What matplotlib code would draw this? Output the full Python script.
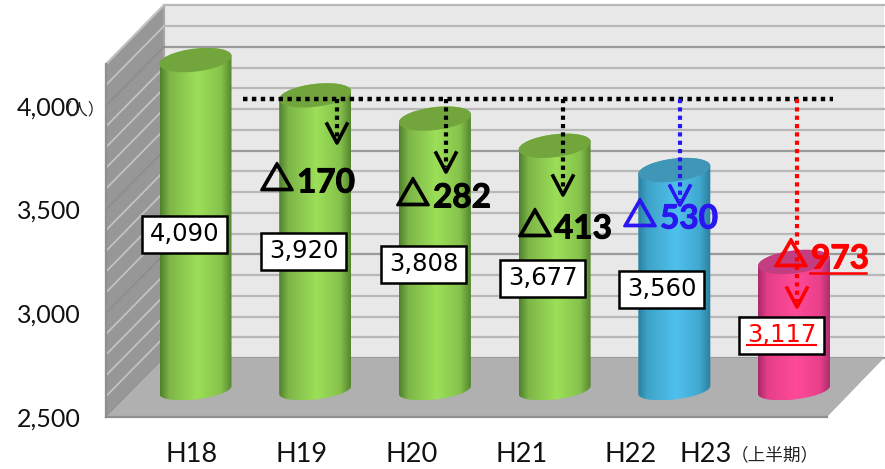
import numpy as np
import matplotlib
matplotlib.use("Agg")
import matplotlib.pyplot as plt
import matplotlib.patheffects as pe
from matplotlib.patches import Polygon, Rectangle
from matplotlib.transforms import Affine2D

W, H = 885, 469

# Headcount per fiscal year
years = ["H18", "H19", "H20", "H21", "H22", "H23"]
values = [4090, 3920, 3808, 3677, 3560, 3117]
value_labels = ["4,090", "3,920", "3,808", "3,677", "3,560", "3,117"]
deltas = ["170", "282", "413", "530", "973"]
y_ticks = [2500, 3000, 3500, 4000]
y_tick_labels = ["2,500", "3,000", "3,500", "4,000"]

# Layout constants, in pixels
PX_PER_UNIT = 0.2075
BASE_Y = 390
FIRST_X = 195.5
STEP_X = 119.7
RADIUS = 36
BACK_DY, FRONT_DY = -32, 27
BACK_X, FRONT_X, RIGHT_BACK, RIGHT_FRONT = 164, 106, 884, 827

GREEN = (["#4f7f2c", "#7db548", "#9cdf58", "#86c24c", "#55852f"], "#72a63d")
BLUE = (["#2b7f9e", "#3ea3c8", "#4fc0ee", "#41a8cf", "#2b7c9b"], "#3f96b6")
PINK = (["#a82a6c", "#e53f88", "#ff4a98", "#e8408a", "#a82a6c"], "#c23e80")
styles = [GREEN, GREEN, GREEN, GREEN, BLUE, PINK]

fig = plt.figure(figsize=(W / 100, H / 100), dpi=100, facecolor="white")
ax = fig.add_axes([0, 0, 1, 1])
ax.set_axis_off()
XLIM = (-FIRST_X / STEP_X, (W - FIRST_X) / STEP_X)
YLIM = (2500 - (H - BASE_Y) / PX_PER_UNIT, 2500 + BASE_Y / PX_PER_UNIT)

# Pixel space with the origin at the top left, for annotations and walls
px = Affine2D().scale(1, -1).translate(0, H)


def val_y(v):
    return BASE_Y - (v - 2500) * PX_PER_UNIT


# Walls and floor of the 3D plot box
top = val_y(4200)
floor = val_y(2500)
ax.add_patch(Polygon([(BACK_X, top + BACK_DY), (RIGHT_BACK, top + BACK_DY),
                      (RIGHT_BACK, floor + BACK_DY), (BACK_X, floor + BACK_DY)],
                     transform=px, fc="#e8e8e8", ec="none", zorder=1))
ax.add_patch(Polygon([(FRONT_X, top + FRONT_DY), (BACK_X, top + BACK_DY),
                      (BACK_X, floor + BACK_DY), (FRONT_X, floor + FRONT_DY)],
                     transform=px, fc="#979797", ec="#a6a6a6", lw=1.5, zorder=1))
for v in range(2500, 4201, 100):
    y = val_y(v)
    major = v % 500 == 0
    ax.plot([BACK_X, RIGHT_BACK], [y + BACK_DY] * 2, transform=px, zorder=2,
            color="#9a9a9a" if major else "#b8b8b8", lw=1.6)
    ax.plot([FRONT_X, BACK_X], [y + FRONT_DY, y + BACK_DY], transform=px, zorder=2,
            color="#8c8c8c" if major else "#c2c2c2", lw=1.3)
ax.add_patch(Polygon([(FRONT_X, floor + FRONT_DY), (BACK_X, floor + BACK_DY),
                      (RIGHT_BACK, floor + BACK_DY), (RIGHT_FRONT, floor + FRONT_DY)],
                     transform=px, fc="#b0b0b0", ec="none", zorder=3))
ax.plot([FRONT_X, RIGHT_FRONT], [floor + FRONT_DY] * 2, transform=px, color="#8f8f8f", lw=1.6, zorder=3)
ax.plot([FRONT_X, FRONT_X], [top + FRONT_DY, floor + FRONT_DY], transform=px, color="#8f8f8f", lw=1.6, zorder=3)


def arc(i, v, start, stop, depth=11.5, n=60):
    """Tilted ellipse arc around bar i at value v, in data coordinates."""
    t = np.linspace(start, stop, n)
    xs = i + RADIUS * np.cos(t) / STEP_X
    ys = v + (4 * np.cos(t) - depth * np.sin(t)) / PX_PER_UNIT
    return np.column_stack([xs, ys])


def hex_rgb(c):
    return np.array(matplotlib.colors.to_rgb(c))


# Cylinders: a horizontal gradient clipped to the body outline, then a flat lid
for i, (v, (stops, lid)) in enumerate(zip(values, styles)):
    outline = np.vstack([arc(i, 2500, np.pi, 0, depth=9.5), arc(i, v, 0, -np.pi)])
    patch = Polygon(outline, closed=True, fc="none", ec="none", transform=ax.transData, zorder=4)
    ax.add_patch(patch)
    pos = np.linspace(0, 1, 200)
    anchors = [0, 0.13, 0.52, 0.85, 1]
    rgb = np.array([np.interp(pos, anchors, [hex_rgb(s)[ch] for s in stops]) for ch in range(3)]).T
    half = RADIUS / STEP_X
    im = ax.imshow(rgb[None, :, :], aspect="auto", zorder=4, interpolation="bilinear",
                   extent=[i - half, i + half, outline[:, 1].min(), outline[:, 1].max()])
    im.set_clip_path(patch)
    ax.add_patch(Polygon(arc(i, v, 0, 2 * np.pi), closed=True, fc=lid, ec="none", zorder=5))

ax.set_xlim(*XLIM)
ax.set_ylim(*YLIM)

LATIN = "Lato"
CJK = "Noto Sans CJK JP"

# Axis labels
for tick, label in zip(y_ticks, y_tick_labels):
    ax.text(49, val_y(tick) + 29, label, transform=px, ha="center", va="center",
            family=LATIN, fontsize=18, color="#111111", zorder=9)
ax.text(80, 110, "（人）", transform=px, ha="center", va="center", family=CJK, fontsize=11.8, color="#222222", zorder=9)
for x, label in zip([192, 302, 412, 522, 631, 706], years):
    ax.text(x, 454, label, transform=px, ha="center", va="center", family=LATIN, fontsize=19.5, color="#111111", zorder=9)
ax.text(775, 455, "（上半期）", transform=px, ha="center", va="center", family=CJK, fontsize=12.7, color="#222222", zorder=9)

# Reference line and the drop arrows hanging from it
ax.plot([243, 833], [99, 99], transform=px, color="black", lw=3.2, ls=(0, (1, 1.0)), zorder=6)
drops = [(337, 143, "black"), (446, 172, "black"), (563, 195, "black"), (680, 205, "#2a16f0"), (797, 307, "red")]
for x, end, color in drops:
    ax.plot([x, x], [99, end - 5], transform=px, color=color, lw=3, ls=(0, (1, 1.0)), zorder=6)
    ax.plot([x - 10, x, x + 10], [end - 19, end, end - 19], transform=px, color=color, lw=2.6, zorder=6)

# Value boxes
boxes = [(142, 216), (261, 233), (381, 246), (500, 260), (619, 271), (739, 317)]
for k, ((x, y), label) in enumerate(zip(boxes, value_labels)):
    ax.add_patch(Rectangle((x, y), 85, 37, transform=px, fc="white", ec="black", lw=1.8, zorder=7))
    color = "red" if k == 5 else "black"
    ax.text(x + 42.5, y + 18, label, transform=px, ha="center", va="center", color=color,
            family="DejaVu Sans", fontsize=17.5, zorder=8)
ax.plot([747, 816], [345, 345], transform=px, color="red", lw=1.5, zorder=8)

# Change against the reference year
marks = [(277, 182, 297, "black"), (413, 197, 433, "black"), (535, 228, 554, "black"),
         (640, 218, 660, "#2a16f0"), (791, 258, 811, "red")]
for (tx, ty, nx, color), label in zip(marks, deltas):
    ax.text(tx, ty - 1, "△", transform=px, ha="center", va="center", family=CJK, fontsize=24,
            color=color, zorder=8, path_effects=[pe.withStroke(linewidth=1.8, foreground=color)])
    ax.text(nx, ty + 1, label, transform=px, ha="left", va="center", family=LATIN, fontsize=24,
            fontweight="bold", color=color, zorder=8,
            path_effects=[pe.withStroke(linewidth=0.7, foreground=color)])
ax.plot([810, 866], [273, 273], transform=px, color="red", lw=1.8, zorder=8)

fig.savefig("out.png", dpi=100)
